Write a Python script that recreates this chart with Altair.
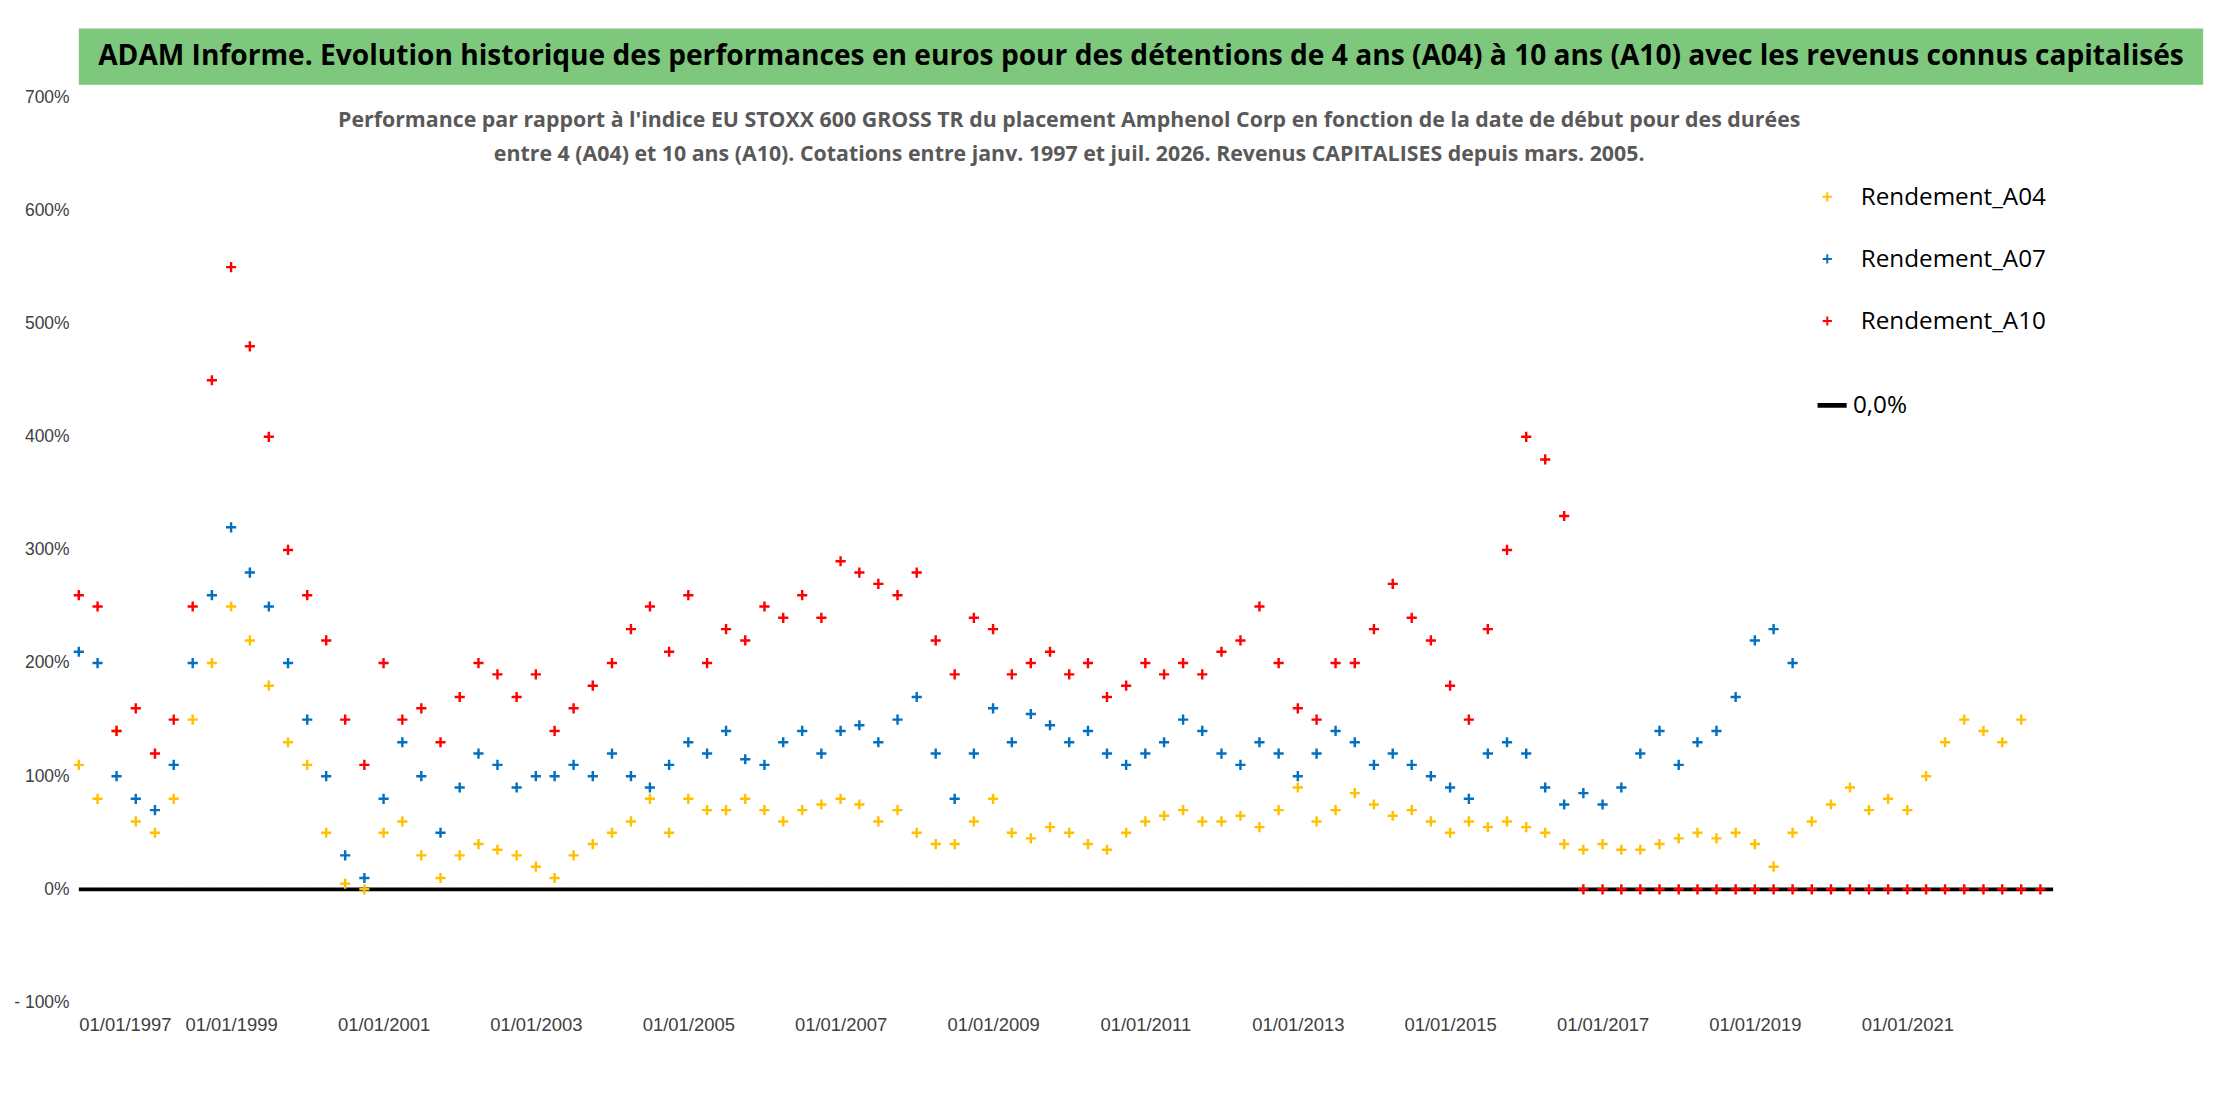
import altair as alt
import pandas as pd

# Quarterly readings (start date of holding) in %
a04 = [110, 80, 140, 60, 50, 80, 150, 200, 250, 220, 180, 130, 110, 50, 5, 0,
       50, 60, 30, 10, 30, 40, 35, 30, 20, 10, 30, 40, 50, 60, 80, 50,
       80, 70, 70, 80, 70, 60, 70, 75, 80, 75, 60, 70, 50, 40, 40, 60,
       80, 50, 45, 55, 50, 40, 35, 50, 60, 65, 70, 60, 60, 65, 55, 70,
       90, 60, 70, 85, 75, 65, 70, 60, 50, 60, 55, 60, 55, 50, 40, 35,
       40, 35, 35, 40, 45, 50, 45, 50, 40, 20, 50, 60, 75, 90, 70, 80,
       70, 100, 130, 150, 140, 130, 150]
a07 = [210, 200, 100, 80, 70, 110, 200, 260, 320, 280, 250, 200, 150, 100, 30, 10,
       80, 130, 100, 50, 90, 120, 110, 90, 100, 100, 110, 100, 120, 100, 90, 110,
       130, 120, 140, 115, 110, 130, 140, 120, 140, 145, 130, 150, 170, 120, 80, 120,
       160, 130, 155, 145, 130, 140, 120, 110, 120, 130, 150, 140, 120, 110, 130, 120,
       100, 120, 140, 130, 110, 120, 110, 100, 90, 80, 120, 130, 120, 90, 75, 85,
       75, 90, 120, 140, 110, 130, 140, 170, 220, 230, 200]
a10 = [260, 250, 140, 160, 120, 150, 250, 450, 550, 480, 400, 300, 260, 220, 150, 110,
       200, 150, 160, 130, 170, 200, 190, 170, 190, 140, 160, 180, 200, 230, 250, 210,
       260, 200, 230, 220, 250, 240, 260, 240, 290, 280, 270, 260, 280, 220, 190, 240,
       230, 190, 200, 210, 190, 200, 170, 180, 200, 190, 200, 190, 210, 220, 250, 200,
       160, 150, 200, 200, 230, 270, 240, 220, 180, 150, 230, 300, 400, 380, 330]
# A10 has no full 10-year window after mid 2016: shown at 0 %
a10_zero_count = 25

series_names = ["Rendement_A04", "Rendement_A07", "Rendement_A10"]
series_colors = ["#ffc000", "#0070c0", "#ff0000"]


def quarters(n, start=1997):
    return [pd.Timestamp(year=start + i // 4, month=1 + 3 * (i % 4), day=1) for i in range(n)]


rows = []
for name, vals in zip(series_names, [a04, a07, a10 + [0] * a10_zero_count]):
    for d, v in zip(quarters(len(vals)), vals):
        rows.append({"date": d, "value": v / 100, "series": name})
df = pd.DataFrame(rows)

zero_df = pd.DataFrame({"date": [pd.Timestamp("1997-01-01"), pd.Timestamp("2022-12-01")],
                        "value": [0, 0], "lab": ["0,0%", "0,0%"]})

plus = "M-1,0L1,0M0,-1L0,1"
x_ticks = [pd.Timestamp(year=y, month=1, day=1).isoformat() for y in range(1997, 2022, 2)]
x_scale = alt.Scale(domain=["1997-01-01", "2023-01-01"])
y_scale = alt.Scale(domain=[-1, 7])

zero = alt.Chart(zero_df).mark_line(strokeWidth=4, color="black").encode(
    x=alt.X("date:T", scale=x_scale),
    y=alt.Y("value:Q", scale=y_scale),
    strokeDash=alt.StrokeDash("lab:N", scale=alt.Scale(range=[[1, 0]]),
                              legend=alt.Legend(title=None, orient="none", legendX=1790, legendY=300,
                                                symbolType="stroke", symbolStrokeColor="black",
                                                symbolStrokeWidth=5, symbolSize=900,
                                                labelFontSize=25, labelFont="Open Sans")),
)

points = alt.Chart(df).mark_point(shape=plus, size=110, strokeWidth=2.5, opacity=1).encode(
    x=alt.X("date:T", scale=x_scale, title=None,
            axis=alt.Axis(values=x_ticks, format="%d/%m/%Y", labelFontSize=19, grid=False,
                          domain=False, ticks=False, labelPadding=14, labelColor="#404040")),
    y=alt.Y("value:Q", scale=y_scale, title=None,
            axis=alt.Axis(values=[-1, 0, 1, 2, 3, 4, 5, 6, 7], format=".0%", labelFontSize=18,
                          grid=False, domain=False, ticks=False, labelPadding=10,
                          labelExpr="datum.value < 0 ? '- ' + format(-datum.value, '.0%') : datum.label",
                          labelColor="#404040")),
    color=alt.Color("series:N", scale=alt.Scale(domain=series_names, range=series_colors),
                    legend=alt.Legend(title=None, orient="none", legendX=1790, legendY=90,
                                      symbolType=plus, symbolSize=90, symbolStrokeWidth=2,
                                      labelFontSize=25, labelFont="Open Sans", rowPadding=38,
                                      labelOffset=22, labelLimit=400)),
)

main = alt.layer(zero, points).properties(
    width=2042, height=933,
    title=alt.TitleParams(
        ["Performance par rapport à l'indice EU STOXX 600 GROSS TR  du placement Amphenol Corp en fonction de la date de début pour des durées",
         "entre 4 (A04) et 10 ans (A10). Cotations entre janv. 1997 et juil. 2026. Revenus CAPITALISES depuis mars. 2005."],
        fontSize=22, font="Open Sans", color="#595959", fontWeight="bold", offset=-80, lineHeight=36,
        anchor="middle"),
).resolve_scale(color="independent", strokeDash="independent")

header = alt.Chart(pd.DataFrame({"t": ["ADAM Informe. Evolution historique des performances en euros pour des détentions de 4 ans (A04) à 10 ans (A10) avec les revenus connus capitalisés"]})).mark_text(
    fontSize=29, fontWeight="bold", font="Open Sans", color="black"
).encode(text="t:N").properties(width=2190, height=58,
                                view=alt.ViewBackground(fill="#7dc87d", stroke=None))

chart = alt.vconcat(header, main, spacing=4).configure_view(stroke=None)
chart.save("out.html", embed_options={"renderer": "svg", "actions": False})
